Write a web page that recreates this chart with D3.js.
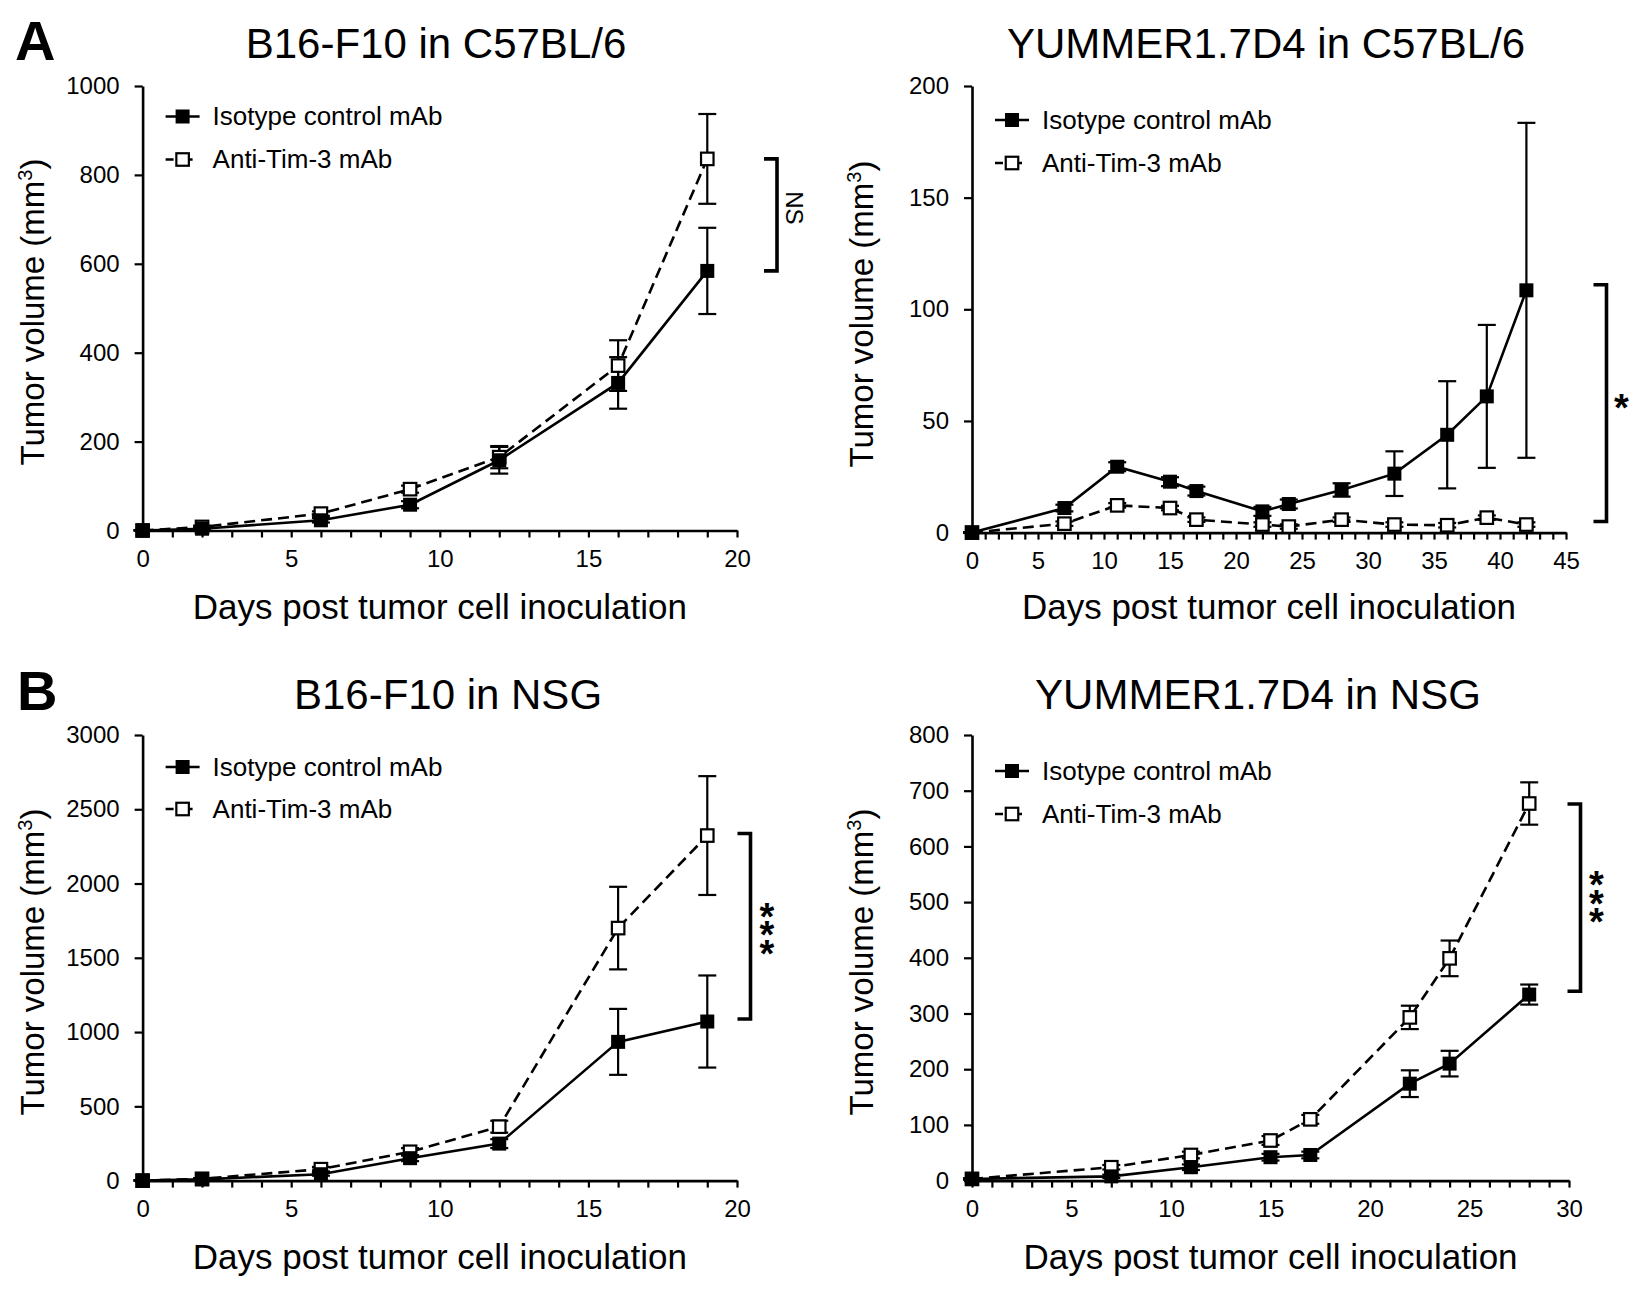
<!DOCTYPE html>
<html><head><meta charset="utf-8">
<script src="https://cdn.jsdelivr.net/npm/d3@7"></script>
<style>
body{margin:0;background:#fff}
svg{display:block}
text{font-family:"Liberation Sans",Arial,Helvetica,sans-serif;fill:#000}
</style>
</head><body>
<svg id="c" width="1644" height="1316"></svg>
<script>
// ---------- DATA ----------
const seriesNames = ["Isotype control mAb", "Anti-Tim-3 mAb"];
const xLabel = "Days post tumor cell inoculation";

// Panel A, left: B16-F10 in C57BL/6
const daysA1 = [0, 2, 6, 9, 12, 16, 19];
const isoA1 = [0, 4, 23, 58, 158, 332, 584];
const isoErrA1 = [1, 3, 5, 8, 30, 58, 97];
const antiA1 = [0, 8, 38, 93, 165, 371, 836];
const antiErrA1 = [1, 3, 5, 8, 25, 57, 101];
const yTicksA1 = [0, 200, 400, 600, 800, 1000];
const xTicksA1 = [0, 5, 10, 15, 20];

// Panel A, right: YUMMER1.7D4 in C57BL/6
const daysA2 = [0, 7, 11, 15, 17, 22, 24, 28, 32, 36, 39, 42];
const isoA2 = [0, 11, 29.5, 22.8, 18.6, 9.5, 12.8, 19.1, 26.4, 43.8, 61, 108.5];
const isoErrA2 = [0, 1.5, 2, 2, 2, 2, 2, 3, 10, 24, 32, 75];
const antiA2 = [0, 4, 12.2, 11, 5.8, 3.6, 2.7, 5.8, 3.6, 3.3, 6.7, 3.6];
const antiErrA2 = [0, 1, 1, 1, 1, 1, 1, 1, 1, 1, 1, 1];
const yTicksA2 = [0, 50, 100, 150, 200];
const xTicksA2 = [0, 5, 10, 15, 20, 25, 30, 35, 40, 45];

// Panel B, left: B16-F10 in NSG
const daysB1 = [0, 2, 6, 9, 12, 16, 19];
const isoB1 = [0, 8, 43, 151, 249, 934, 1071];
const isoErrB1 = [2, 5, 10, 20, 30, 222, 310];
const antiB1 = [0, 12, 77, 194, 363, 1700, 2323];
const antiErrB1 = [2, 5, 15, 25, 40, 278, 400];
const yTicksB1 = [0, 500, 1000, 1500, 2000, 2500, 3000];
const xTicksB1 = [0, 5, 10, 15, 20];

// Panel B, right: YUMMER1.7D4 in NSG
const daysB2 = [0, 7, 11, 15, 17, 22, 24, 28];
const isoB2 = [3, 7.6, 24, 42, 46, 174, 210, 334];
const isoErrB2 = [1, 3, 5, 6, 6, 24, 23, 18];
const antiB2 = [3, 24, 46, 72, 110, 293, 399, 677];
const antiErrB2 = [1, 4, 6, 8, 8, 21, 32, 38];
const yTicksB2 = [0, 100, 200, 300, 400, 500, 600, 700, 800];
const xTicksB2 = [0, 5, 10, 15, 20, 25, 30];

// significance brackets: [top value, bottom value], label
const sigA1 = {span: [836, 584], label: "NS"};
const sigA2 = {span: [111, 5], label: "*"};
const sigB1 = {span: [2337, 1088], label: "***"};
const sigB2 = {span: [676, 340], label: "***"};

const titles = ["B16-F10 in C57BL/6", "YUMMER1.7D4 in C57BL/6", "B16-F10 in NSG", "YUMMER1.7D4 in NSG"];
const panelLetters = ["A", "B"];

// ---------- LAYOUT ----------
const panels = [
  {title: titles[0], days: daysA1, iso: isoA1, isoErr: isoErrA1, anti: antiA1, antiErr: antiErrA1,
   yTicks: yTicksA1, xTicks: xTicksA1, sig: sigA1,
   xr: [142.6, 737], yr: [530.5, 86], titleX: 436, titleY: 58, legY: [116.5, 159.5],
   yLabX: 43.5, yLabY: 312, xLabY: 619, brX: 777, sigRot: true, sigDx: 17, sigDy: -7},
  {title: titles[1], days: daysA2, iso: isoA2, isoErr: isoErrA2, anti: antiA2, antiErr: antiErrA2,
   yTicks: yTicksA2, xTicks: xTicksA2, sig: sigA2,
   xr: [972, 1566], yr: [532.6, 86], titleX: 1266, titleY: 58, legY: [120, 163],
   yLabX: 873, yLabY: 314, xLabY: 619, brX: 1606.5, sigDx: 15, sigDy: -4},
  {title: titles[2], days: daysB1, iso: isoB1, isoErr: isoErrB1, anti: antiB1, antiErr: antiErrB1,
   yTicks: yTicksB1, xTicks: xTicksB1, sig: sigB1,
   xr: [142.6, 737], yr: [1180.6, 735], titleX: 448, titleY: 709, legY: [767, 809],
   yLabX: 43.5, yLabY: 962, xLabY: 1269, brX: 750.5, sigDx: 16.5, sigDy: 0},
  {title: titles[3], days: daysB2, iso: isoB2, isoErr: isoErrB2, anti: antiB2, antiErr: antiErrB2,
   yTicks: yTicksB2, xTicks: xTicksB2, sig: sigB2,
   xr: [972, 1569], yr: [1180.6, 735], titleX: 1258, titleY: 709, legY: [771, 814],
   yLabX: 873, yLabY: 962, xLabY: 1269, brX: 1580.5, sigDx: 16, sigDy: -3}
];

const svg = d3.select("#c");
svg.append("rect").attr("width", 1644).attr("height", 1316).attr("fill", "#fff");

// panel letters
svg.append("text").attr("x", 15).attr("y", 60).attr("font-size", 56).attr("font-weight", "bold").text(panelLetters[0]);
svg.append("text").attr("x", 17).attr("y", 710).attr("font-size", 56).attr("font-weight", "bold").text(panelLetters[1]);

const SW = 2.6;

panels.forEach(p => {
  const xMax = p.xTicks[p.xTicks.length - 1];
  const yMax = p.yTicks[p.yTicks.length - 1];
  const x = d3.scaleLinear().domain([0, xMax]).range(p.xr);
  const y = d3.scaleLinear().domain([0, yMax]).range(p.yr);
  const g = svg.append("g");

  // title
  g.append("text").attr("x", p.titleX).attr("y", p.titleY).attr("text-anchor", "middle")
    .attr("font-size", 42).text(p.title);

  // axes
  const yAxis = d3.axisLeft(y).tickValues(p.yTicks).tickSize(8).tickSizeOuter(0).tickPadding(15)
    .tickFormat(d3.format("d"));
  const ya = g.append("g").attr("transform", `translate(${p.xr[0]},0)`).call(yAxis);
  const xAxis = d3.axisBottom(x).tickValues(d3.range(0, xMax + 1)).tickSize(7).tickSizeOuter(0).tickPadding(12)
    .tickFormat(d => p.xTicks.includes(d) ? d : "");
  const xa = g.append("g").attr("transform", `translate(0,${p.yr[0]})`).call(xAxis);
  [ya, xa].forEach(a => {
    a.select(".domain").attr("stroke", "#000").attr("stroke-width", SW);
    a.selectAll(".tick line").attr("stroke", "#000").attr("stroke-width", 2.2);
    a.selectAll(".tick text").attr("font-size", 24).attr("fill", "#000")
      .attr("font-family", '"Liberation Sans",Arial,sans-serif');
  });

  // axis labels
  g.append("text").attr("x", (p.xr[0] + p.xr[1]) / 2).attr("y", p.xLabY).attr("text-anchor", "middle")
    .attr("font-size", 35).text(xLabel);
  const yl = g.append("text").attr("transform", `translate(${p.yLabX},${p.yLabY}) rotate(-90)`)
    .attr("text-anchor", "middle").attr("font-size", 33);
  yl.append("tspan").text("Tumor volume (mm");
  yl.append("tspan").attr("font-size", 20).attr("dy", -12).text("3");
  yl.append("tspan").attr("dy", 12).text(")");

  const isoPts = p.days.map((d, i) => ({d, v: p.iso[i], e: p.isoErr[i]}));
  const antiPts = p.days.map((d, i) => ({d, v: p.anti[i], e: p.antiErr[i]}));

  // error bars
  const cap = 9;
  [antiPts, isoPts].forEach(pts => {
    const eb = g.append("g").attr("stroke", "#000").attr("stroke-width", 2.2);
    pts.forEach(o => {
      const y1 = y(o.v + o.e), y2 = y(Math.max(0, o.v - o.e)), cx = x(o.d);
      eb.append("line").attr("x1", cx).attr("x2", cx).attr("y1", y1).attr("y2", y2);
      eb.append("line").attr("x1", cx - cap).attr("x2", cx + cap).attr("y1", y1).attr("y2", y1);
      eb.append("line").attr("x1", cx - cap).attr("x2", cx + cap).attr("y1", y2).attr("y2", y2);
    });
  });

  const line = d3.line().x(o => x(o.d)).y(o => y(o.v));
  g.append("path").datum(antiPts).attr("d", line).attr("fill", "none").attr("stroke", "#000")
    .attr("stroke-width", SW).attr("stroke-dasharray", "11,6");
  g.append("path").datum(isoPts).attr("d", line).attr("fill", "none").attr("stroke", "#000")
    .attr("stroke-width", SW);

  // markers
  const so = 12.5, sf = 14;
  g.selectAll(null).data(antiPts).enter().append("rect")
    .attr("x", o => x(o.d) - so / 2).attr("y", o => y(o.v) - so / 2)
    .attr("width", so).attr("height", so).attr("fill", "#fff").attr("stroke", "#000").attr("stroke-width", 2.2);
  g.selectAll(null).data(isoPts).enter().append("rect")
    .attr("x", o => x(o.d) - sf / 2).attr("y", o => y(o.v) - sf / 2)
    .attr("width", sf).attr("height", sf).attr("fill", "#000");

  // legend
  const lx = p.xr[0] + 23;
  seriesNames.forEach((name, i) => {
    const ly = p.legY[i];
    const lg = g.append("g");
    lg.append("line").attr("x1", lx).attr("x2", lx + 34).attr("y1", ly).attr("y2", ly)
      .attr("stroke", "#000").attr("stroke-width", SW).attr("stroke-dasharray", i === 0 ? null : "8,14,5");
    if (i === 0) {
      lg.append("rect").attr("x", lx + 17 - sf / 2).attr("y", ly - sf / 2).attr("width", sf).attr("height", sf).attr("fill", "#000");
    } else {
      lg.append("rect").attr("x", lx + 17 - so / 2).attr("y", ly - so / 2).attr("width", so).attr("height", so)
        .attr("fill", "#fff").attr("stroke", "#000").attr("stroke-width", 2.2);
    }
    lg.append("text").attr("x", lx + 47).attr("y", ly + 8.5).attr("font-size", 26).text(name);
  });

  // significance bracket
  const yt = y(p.sig.span[0]), yb = y(p.sig.span[1]);
  g.append("path").attr("d", `M${p.brX - 13},${yt} H${p.brX} V${yb} H${p.brX - 13}`)
    .attr("fill", "none").attr("stroke", "#000").attr("stroke-width", 3.6);
  const cy = (yt + yb) / 2 + p.sigDy, cx = p.brX + p.sigDx;
  if (p.sigRot) {
    g.append("text").attr("transform", `translate(${cx - 8},${cy}) rotate(90)`).attr("text-anchor", "middle")
      .attr("font-size", 24).text(p.sig.label);
  } else {
    // asterisks stacked vertically, kept upright, as one text run
    const n = p.sig.label.length, step = 18.5, fs = 38, adv = 0.389 * fs;
    g.append("text")
      .attr("transform", `translate(${cx - adv / 2},${cy - (n - 1) / 2 * step + 0.58 * fs}) rotate(90)`)
      .attr("rotate", -90)
      .attr("letter-spacing", step - adv)
      .attr("font-size", fs).attr("font-weight", "bold").text(p.sig.label);
  }
});
</script>
</body></html>
